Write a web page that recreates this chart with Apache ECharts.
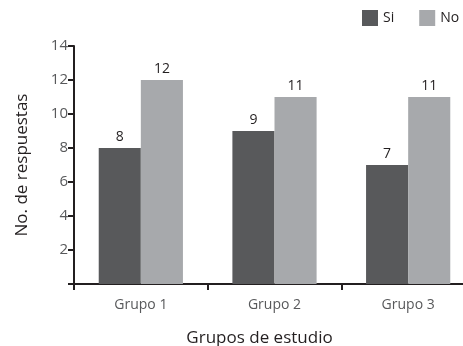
<!DOCTYPE html>
<html><head><meta charset="utf-8">
<script src="https://cdn.jsdelivr.net/npm/echarts@6/dist/echarts.min.js"></script>
<style>html,body{margin:0;padding:0;background:#fff}#c{width:463px;height:346px}</style>
</head><body><div id="c"></div>
<script>
const categories = ['Grupo 1', 'Grupo 2', 'Grupo 3'];
const siValues = [8, 9, 7];
const noValues = [12, 11, 11];
const yTicks = [0, 2, 4, 6, 8, 10, 12, 14];

const FONT = '"Open Sans", "Noto Sans", sans-serif';
const chart = echarts.init(document.getElementById('c'), null, {renderer: 'canvas'});
chart.setOption({
  animation: false,
  textStyle: {fontFamily: FONT},
  legend: {
    orient: 'horizontal', left: 362, top: 10, width: 140, itemWidth: 16, itemHeight: 16, itemGap: 25,
    icon: 'rect', padding: 0,
    textStyle: {fontFamily: FONT, fontSize: 14, color: '#231f20'},
    data: ['Si', 'No']
  },
  grid: {left: 74, top: 46, right: -12, bottom: 62, containLabel: false, outerBoundsMode: 'none'},
  xAxis: {
    type: 'category', data: categories,
    axisLine: {lineStyle: {color: '#231f20', width: 2}},
    axisTick: {show: true, length: 6, lineStyle: {color: '#231f20', width: 2}},
    axisLabel: {fontFamily: FONT, fontSize: 14, color: '#58595b', margin: 14},
    name: 'Grupos de estudio', nameLocation: 'middle', nameGap: 46,
    nameTextStyle: {fontFamily: FONT, fontSize: 17, color: '#231f20', padding: [0, 30, 0, 0]}
  },
  yAxis: {
    type: 'value', min: yTicks[0], max: yTicks[yTicks.length - 1], interval: 2,
    splitLine: {show: false},
    axisLine: {show: true, lineStyle: {color: '#231f20', width: 2}},
    axisTick: {show: true, length: 6, lineStyle: {color: '#231f20', width: 2}},
    axisLabel: {fontFamily: FONT, fontSize: 15, color: '#58595b', margin: 6,
      formatter: v => v === 0 ? '' : String(v)},
    name: 'No. de respuestas', nameLocation: 'middle', nameGap: 43,
    nameTextStyle: {fontFamily: FONT, fontSize: 17, color: '#231f20'}
  },
  series: [
    {name: 'Si', type: 'bar', data: siValues, barGap: '0%', barCategoryGap: '37%',
     itemStyle: {color: '#58595b'},
     label: {show: true, position: 'top', distance: 4, fontFamily: FONT, fontSize: 14, color: '#231f20'}},
    {name: 'No', type: 'bar', data: noValues, barGap: '0%', barCategoryGap: '37%',
     itemStyle: {color: '#a7a9ac'},
     label: {show: true, position: 'top', distance: 4, fontFamily: FONT, fontSize: 14, color: '#231f20'}}
  ]
});
</script></body></html>
